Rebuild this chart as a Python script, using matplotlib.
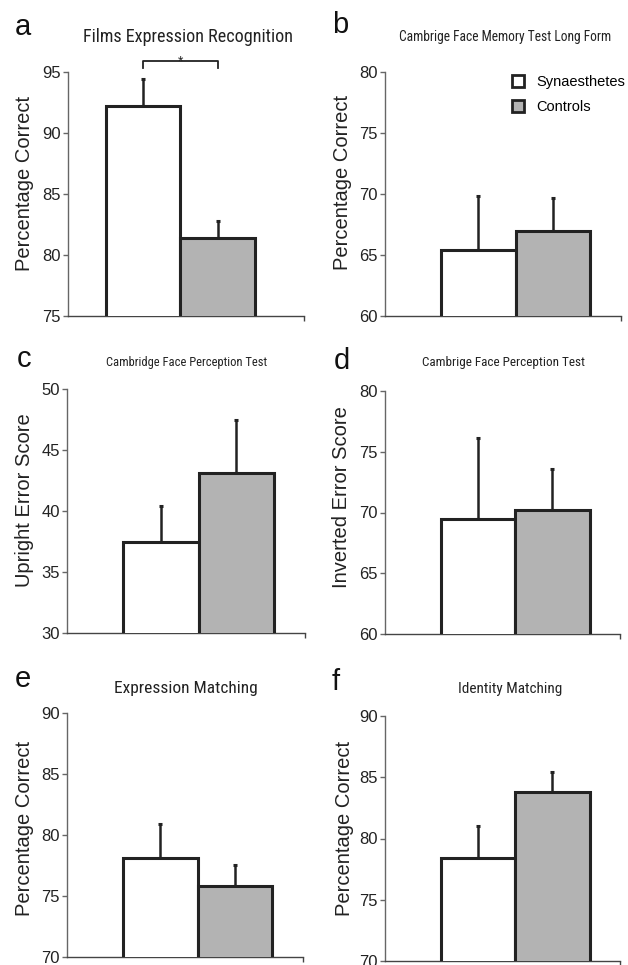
import os
import matplotlib
matplotlib.use("Agg")
import matplotlib.pyplot as plt
from matplotlib.patches import Patch
from matplotlib import font_manager as fm

W, H = 628, 965

groups = ["Synaesthetes", "Controls"]
bar_colors = ["#ffffff", "#b3b3b3"]

titles = ["Films Expression Recognition",
          "Cambrige Face Memory Test Long Form",
          "Cambridge Face Perception Test",
          "Cambrige Face Perception Test",
          "Expression Matching",
          "Identity Matching"]
letters = ["a", "b", "c", "d", "e", "f"]
ylabels = ["Percentage Correct", "Percentage Correct",
           "Upright Error Score", "Inverted Error Score",
           "Percentage Correct", "Percentage Correct"]

means_a = [92.2, 81.4]; err_a = [2.2, 1.4]
means_b = [65.4, 67.0]; err_b = [4.4, 2.7]
means_c = [37.5, 43.1]; err_c = [2.9, 4.4]
means_d = [69.5, 70.2]; err_d = [6.6, 3.4]
means_e = [78.1, 75.8]; err_e = [2.8, 1.7]
means_f = [78.4, 83.8]; err_f = [2.6, 1.6]
means = [means_a, means_b, means_c, means_d, means_e, means_f]
errs = [err_a, err_b, err_c, err_d, err_e, err_f]

ylims = [(75, 95), (60, 80), (30, 50), (60, 80), (70, 90), (70, 90)]
yticks = [[75, 80, 85, 90, 95], [60, 65, 70, 75, 80], [30, 35, 40, 45, 50],
          [60, 65, 70, 75, 80], [70, 75, 80, 85, 90], [70, 75, 80, 85, 90]]

# layout (pixels): left, top, right, bottom
rects = [(68, 72, 304, 316), (385, 72, 621, 316),
         (67, 389, 305, 633), (385, 391, 620, 634),
         (67, 713, 303, 957), (385, 716, 620, 961)]
xlims = [(-1.01, 2.16)] + [(-1.25, 1.91)] * 5
title_pos = [(188, 42), (505, 41), (187, 366), (503, 366), (186, 693), (510, 693)]
title_width = [210, 213, 161, 163, 143, 104]
letter_pos = [(15, 35), (332, 33), (17, 367), (334, 369), (15, 687), (332, 690)]
ylabel_pos = [(25, 183), (343, 182), (25, 500), (341, 497), (25, 828), (344, 828)]

REG = "Liberation Sans"


def find_condensed():
    bad = ("bold", "italic", "oblique", "mono", "serif", "light", "thin",
           "medium", "black", "semi", "extra", "heavy")
    pref = ["liberationsansnarrow", "robotocondensed", "opensanscondensed",
            "dejavusanscondensed", "notosanscondensed", "ptsansnarrow",
            "arialnarrow"]
    cands = []
    for f in fm.fontManager.ttflist:
        base = os.path.basename(f.fname).lower().replace("-", "").replace("_", "")
        if ("narrow" in base or "condensed" in base) and not any(b in base for b in bad):
            rank = len(pref)
            for k, p in enumerate(pref):
                if base.startswith(p):
                    rank = k
                    break
            cands.append((rank, f.fname))
    if cands:
        cands.sort()
        return fm.FontProperties(fname=cands[0][1])
    return fm.FontProperties(family=REG)


cond_fp = find_condensed()

fig = plt.figure(figsize=(W / 100, H / 100), dpi=100)


def fx(x):
    return x / W


def fy(y):
    return 1 - y / H


axes = []
title_texts = []
for i in range(6):
    l, t, r, b = rects[i]
    ax = fig.add_axes([fx(l), fy(b), (r - l) / W, (b - t) / H])
    axes.append(ax)
    xs = [0, 1]
    ax.bar(xs, means[i], width=1.0, color=bar_colors, edgecolor="#222222",
           linewidth=2.2, zorder=3)
    for x, m, e in zip(xs, means[i], errs[i]):
        ax.errorbar([x], [m], yerr=[[0], [e]], fmt="none", ecolor="#222222",
                    elinewidth=1.8, capsize=1.6, capthick=2.2, zorder=2)
    ax.set_ylim(*ylims[i])
    ax.set_xlim(*xlims[i])
    ax.set_yticks(yticks[i])
    ax.set_yticklabels([str(v) for v in yticks[i]], fontfamily=REG, fontsize=12,
                       color="#222222")
    ax.set_xticks([xlims[i][1]])
    ax.set_xticklabels([""])
    for s in ["top", "right"]:
        ax.spines[s].set_visible(False)
    ax.spines["left"].set_color("#666666")
    ax.spines["bottom"].set_color("#444444")
    ax.spines["left"].set_linewidth(1.0)
    ax.spines["bottom"].set_linewidth(1.0)
    ax.tick_params(axis="y", length=3.5, width=1.0, color="#666666", pad=1.5)
    ax.tick_params(axis="x", length=3.5, width=1.0, color="#444444")
    ax.patch.set_alpha(0)

    fp = cond_fp.copy()
    fp.set_size(12)
    tt = fig.text(fx(title_pos[i][0]), fy(title_pos[i][1]), titles[i], ha="center",
                  va="baseline", fontproperties=fp, color="#222222")
    title_texts.append(tt)
    fig.text(fx(letter_pos[i][0]), fy(letter_pos[i][1]), letters[i], ha="left",
             va="baseline", fontsize=21, family=REG, color="#111111")
    fig.text(fx(ylabel_pos[i][0]), fy(ylabel_pos[i][1]), ylabels[i], ha="center",
             va="center", rotation=90, fontsize=14.5, family=REG, color="#222222")

# fit title sizes to the widths seen in the reference
fig.canvas.draw()
rend = fig.canvas.get_renderer()
for tt, target in zip(title_texts, title_width):
    w = tt.get_window_extent(rend).width
    size = tt.get_fontsize() * target / w
    tt.set_fontsize(min(size, 15))

# significance bracket in panel a
axa = axes[0]
br_y = 95.9
br_drop = 95.3
axa.plot([0, 0, 1, 1], [br_drop, br_y, br_y, br_drop], color="#222222",
         lw=1.3, clip_on=False, zorder=4)
axa.text(0.5, 95.55, "*", ha="center", va="baseline", fontsize=10,
         family=REG, color="#222222", clip_on=False)

# legend in panel b
handles = [Patch(facecolor=c, edgecolor="#222222", linewidth=2.0) for c in bar_colors]
fig.legend(handles, groups, loc="upper left",
           bbox_to_anchor=(fx(512), fy(75)), frameon=False,
           handlelength=0.85, handleheight=0.85, handletextpad=0.8,
           labelspacing=0.75, borderpad=0, borderaxespad=0,
           prop={"family": REG, "size": 10.5})

fig.savefig("out.png", dpi=100, facecolor="white")
